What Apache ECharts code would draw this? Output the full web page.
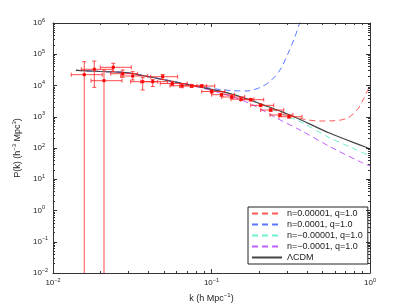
<!DOCTYPE html>
<html><head><meta charset="utf-8">
<script src="https://cdn.jsdelivr.net/npm/echarts@6/dist/echarts.min.js"></script>
<style>html,body{margin:0;padding:0;background:#fff}#c{width:409px;height:307px}</style>
</head><body><div id="c"></div>
<script>
// ---- measured data points (k in h/Mpc, P in h^-3 Mpc^3) ----
const kData  = [0.01575, 0.01822, 0.02098, 0.02401, 0.02752, 0.03184, 0.03680, 0.04256, 0.04921, 0.05657, 0.06515, 0.07500, 0.08675, 0.1003, 0.1157, 0.1341, 0.1535, 0.1767, 0.2043, 0.2363, 0.2705, 0.3083];
const pData  = [22200, 33000, 14260, 38200, 23900, 20140, 13240, 13240, 19140, 11590, 9860, 9640, 9640, 6430, 5080, 4290, 3645, 3516, 2320, 1640, 1140, 1000];
const kLow   = [0.01304, 0.01508, 0.01737, 0.01988, 0.02311, 0.02673, 0.03090, 0.03573, 0.04132, 0.04750, 0.05470, 0.06297, 0.07504, 0.08677, 0.1001, 0.1160, 0.1328, 0.1529, 0.1767, 0.2044, 0.2340, 0.2667];
const kHigh  = [0.02046, 0.02367, 0.02725, 0.03119, 0.03421, 0.03958, 0.04574, 0.05290, 0.06117, 0.07032, 0.08098, 0.09323, 0.1048, 0.1212, 0.1398, 0.1620, 0.1854, 0.2135, 0.2468, 0.2855, 0.3268, 0.3724];
const pLow   = [0, 8750, 0, 27700, 18300, 15000, 7180, 9300, 15500, 9800, 8500, 8600, 8700, 5700, 4500, 3850, 3300, 3200, 2100, 1480, 1030, 910];
const pHigh  = [57800, 60800, 31300, 51300, 31300, 27700, 17800, 15500, 22500, 13700, 11300, 10800, 10700, 7200, 5700, 4800, 4050, 3850, 2550, 1800, 1260, 1100];

// ---- model curves ----
const lcdmK = [0.01396, 0.01979, 0.02846, 0.03805, 0.05088, 0.06804, 0.08462, 0.1308, 0.1749, 0.3128, 0.5594, 1];
const lcdmP = [30650, 28050, 26060, 20140, 15000, 11170, 8950, 5550, 3436, 1138, 295, 95];

const redK = [0.01396, 0.01979, 0.02846, 0.03805, 0.05088, 0.06804, 0.08462, 0.1308, 0.1749, 0.3128, 0.389, 0.4836, 0.5842, 0.7159, 0.8279, 0.9033, 1];
const redP = [30650, 28050, 26060, 20140, 15000, 11170, 8950, 5550, 3436, 1100, 817, 731, 742, 891, 1644, 3436, 10400];

const blueK = [0.01396, 0.01979, 0.02846, 0.03805, 0.05088, 0.06804, 0.08462, 0.1131, 0.1366, 0.1675, 0.2023, 0.2338, 0.2705, 0.3039, 0.3363, 0.3617, 0.3778];
const blueP = [30650, 28050, 26060, 20300, 15400, 11500, 9290, 7450, 6820, 6670, 8630, 13430, 31330, 105700, 364500, 1080000, 1940000];

const cyanK = [0.01396, 0.01979, 0.02846, 0.03805, 0.05088, 0.06804, 0.08462, 0.1308, 0.1749, 0.2023, 0.3128, 0.3617, 0.5594, 0.748, 1];
const cyanP = [30650, 28050, 26060, 20140, 15000, 11170, 8950, 5550, 3436, 2600, 946, 705, 209, 108, 55.5];

const purpK = [0.01396, 0.01979, 0.02846, 0.03805, 0.05088, 0.06804, 0.08462, 0.1308, 0.1749, 0.2589, 0.3617, 0.5594, 0.8647, 1];
const purpP = [30650, 28050, 26060, 20140, 15000, 11170, 8700, 4610, 2655, 892, 377, 110, 36.5, 26.5];

const seriesNames = ['n=0.00001, q=1.0', 'n=0.0001, q=1.0', 'n=\u22120.00001, q=1.0', 'n=\u22120.0001, q=1.0', '\u039BCDM'];
const xDecades = [-2, -1];
const yDecades = [-2, -1, 0, 1, 2, 3, 4, 5];

function minorTicks(decades) {
  const out = [];
  decades.forEach(d => { for (let m = 2; m <= 9; m++) out.push(m * Math.pow(10, d)); });
  return out;
}
const xMinor = minorTicks(xDecades);
const yMinor = minorTicks(yDecades);

function zip(a, b) { return a.map((v, i) => [v, b[i]]); }

const FONT = 'Liberation Sans, Arial, Helvetica, sans-serif';
const AX = '#333';
const tickRich = {
  b: { fontSize: 8, lineHeight: 12, fontFamily: FONT, color: '#222' },
  s: { fontSize: 5.5, lineHeight: 7, verticalAlign: 'top', fontFamily: FONT, color: '#222' }
};
function expLabel(v) {
  const e = Math.round(Math.log10(v));
  return '{b|10}{s|' + (e < 0 ? '\u2212' + (-e) : e) + '}';
}

function axisBase(type, pos, range, extra) {
  return Object.assign({
    type: 'log', logBase: 10, min: range[0], max: range[1], interval: 1, position: pos,
    axisLine: { show: false }, axisLabel: { show: false }, splitLine: { show: false },
    axisTick: { show: false }, minorTick: { show: false }, z: 10
  }, extra);
}
const xr = [0.01, 1], yr = [0.01, 1e6];
const majTick = { show: true, inside: true, length: 4, lineStyle: { color: AX, width: 1 } };
const minTick = (vals) => ({ show: true, inside: true, length: 2, customValues: vals, lineStyle: { color: AX, width: 1 } });
const nameRich = { n: { fontSize: 9, lineHeight: 13, fontFamily: FONT, color: '#222' }, s: { fontSize: 6, lineHeight: 8, verticalAlign: 'top', fontFamily: FONT, color: '#222' } };

const xAxes = [
  axisBase('x', 'bottom', xr, {
    axisLine: { show: true, onZero: false, lineStyle: { color: AX, width: 1 } },
    axisTick: majTick,
    axisLabel: { show: true, margin: 4, formatter: expLabel, rich: tickRich, showMinLabel: true, showMaxLabel: true, hideOverlap: false },
    name: '{n|k (h Mpc}{s|\u22121}{n|)}', nameLocation: 'middle', nameGap: 15,
    nameTextStyle: { rich: nameRich }
  }),
  axisBase('x', 'bottom', xr, { axisTick: minTick(xMinor) }),
  axisBase('x', 'top', xr, { axisLine: { show: true, onZero: false, lineStyle: { color: AX, width: 1 } }, axisTick: majTick }),
  axisBase('x', 'top', xr, { axisTick: minTick(xMinor) })
];
const yAxes = [
  axisBase('y', 'left', yr, {
    axisLine: { show: true, onZero: false, lineStyle: { color: AX, width: 1 } },
    axisTick: majTick,
    axisLabel: { show: true, margin: 20, align: 'left', formatter: expLabel, rich: tickRich, showMinLabel: true, showMaxLabel: true, hideOverlap: false },
    name: '{n|P(k) (h}{s|\u22123}{n| Mpc}{s|3}{n|)}', nameLocation: 'middle', nameGap: 23,
    nameTextStyle: { rich: nameRich }
  }),
  axisBase('y', 'left', yr, { axisTick: minTick(yMinor) }),
  axisBase('y', 'right', yr, { axisLine: { show: true, onZero: false, lineStyle: { color: AX, width: 1 } }, axisTick: majTick }),
  axisBase('y', 'right', yr, { axisTick: minTick(yMinor) })
];

function lineSeries(name, k, p, color, dashed, width) {
  return {
    name: name, type: 'line', data: zip(k, p), xAxisIndex: 0, yAxisIndex: 0,
    symbol: 'none', smooth: 0.3, clip: true, z: 3,
    lineStyle: { color: color, width: width || 1, type: dashed ? [6, 4] : 'solid' },
    itemStyle: { color: color }
  };
}

function renderErr(params, api) {
  const k = api.value(0), p = api.value(1), kl = api.value(2), kh = api.value(3), pl = api.value(4), ph = api.value(5);
  const cs = params.coordSys;
  const c = api.coord([k, p]);
  const left = api.coord([kl, p])[0];
  const right = api.coord([kh, p])[0];
  const top = api.coord([k, ph])[1];
  const bottom = pl > 0 ? api.coord([k, pl])[1] : cs.y + cs.height;
  const st = { stroke: 'rgba(255,30,30,0.8)', lineWidth: 1 };
  const cap = 2;
  const ch = [
    { type: 'line', shape: { x1: left, y1: c[1], x2: right, y2: c[1] }, style: st },
    { type: 'line', shape: { x1: left, y1: c[1] - cap, x2: left, y2: c[1] + cap }, style: st },
    { type: 'line', shape: { x1: right, y1: c[1] - cap, x2: right, y2: c[1] + cap }, style: st },
    { type: 'line', shape: { x1: c[0], y1: top, x2: c[0], y2: bottom }, style: st },
    { type: 'line', shape: { x1: c[0] - cap, y1: top, x2: c[0] + cap, y2: top }, style: st }
  ];
  if (pl > 0) ch.push({ type: 'line', shape: { x1: c[0] - cap, y1: bottom, x2: c[0] + cap, y2: bottom }, style: st });
  ch.push({ type: 'rect', shape: { x: c[0] - 1.5, y: c[1] - 1.5, width: 3, height: 3 }, style: { fill: '#ff0000' } });
  return { type: 'group', children: ch };
}

const errData = kData.map((k, i) => [k, pData[i], kLow[i], kHigh[i], pLow[i], pHigh[i]]);

const chart = echarts.init(document.getElementById('c'), null, { renderer: 'canvas' });
chart.setOption({
  animation: false,
  backgroundColor: '#fff',
  textStyle: { fontFamily: FONT },
  grid: { left: 53, right: 39, top: 23, bottom: 34, containLabel: false, outerBoundsMode: 'none' },
  xAxis: xAxes,
  yAxis: yAxes,
  legend: {
    data: seriesNames, left: 248, top: 207, orient: 'vertical',
    itemWidth: 30, itemHeight: 10, itemGap: 2, padding: [2, 5, 2, 3],
    borderColor: '#222', borderWidth: 1, backgroundColor: '#fff',
    itemStyle: { opacity: 0 },
    textStyle: { fontSize: 9, fontFamily: FONT, color: '#222' },
    selectedMode: false
  },
  series: [
    lineSeries(seriesNames[0], redK, redP, '#ff5a5a', true),
    lineSeries(seriesNames[1], blueK, blueP, '#5a78ff', true),
    lineSeries(seriesNames[2], cyanK, cyanP, '#70f0d0', true),
    lineSeries(seriesNames[3], purpK, purpP, '#c060ff', true),
    lineSeries(seriesNames[4], lcdmK, lcdmP, '#444444', false, 1.2),
    {
      type: 'custom', name: 'data', xAxisIndex: 0, yAxisIndex: 0, clip: true, z: 5,
      encode: { x: 0, y: 1 }, data: errData, renderItem: renderErr
    }
  ]
});
</script></body></html>
